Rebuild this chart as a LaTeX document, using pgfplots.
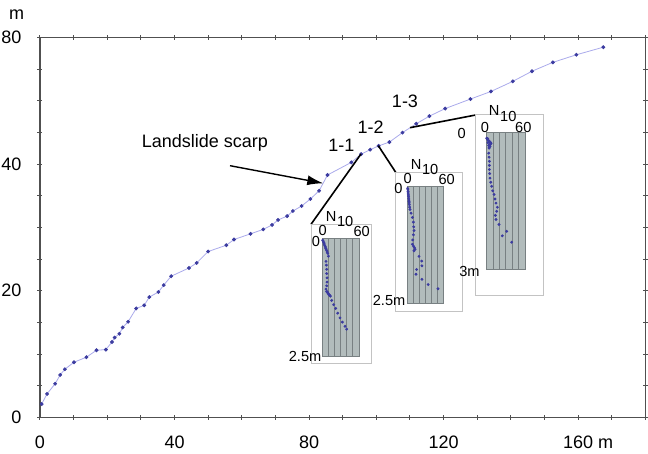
\documentclass[border=0pt]{standalone}
\usepackage{pgfplots}
\pgfplotsset{compat=1.18}
\usepackage{fontspec}
\setmainfont{Liberation Sans}
\usetikzlibrary{arrows.meta}
\definecolor{dotblue}{RGB}{60,60,160}
\definecolor{lineblue}{RGB}{170,170,235}
\definecolor{insetgray}{RGB}{178,188,188}
\definecolor{gridgray}{RGB}{120,128,130}
\definecolor{boxgray}{RGB}{195,195,195}
\definecolor{axisgray}{RGB}{80,80,80}
\newcommand{\insetfont}{\fontsize{7.3}{8}\selectfont}
\newcommand{\mainfont}{\fontsize{9}{10}\selectfont}
\pgfplotsset{
  inset/.style={scale only axis, anchor=north west, xmin=0, xmax=60, ymin=0, y dir=reverse,
    axis background/.style={fill=insetgray},
    xtick={0,10,...,60}, xticklabels={}, ytick=\empty,
    xmajorgrids, grid style={gridgray, line width=0.45pt},
    major tick length=0pt, axis line style={gridgray, line width=0.45pt}, clip=false},
  insetdots/.style={only marks, mark=*, mark size=0.5pt, color=dotblue}
}
\begin{document}
\begin{tikzpicture}
\useasboundingbox (0,0) rectangle (324pt,227pt);
\begin{axis}[name=main, at={(20pt,18.35pt)}, anchor=south west, scale only axis,
  width=302.65pt, height=189.8pt, xmin=0, xmax=180, ymin=0, ymax=60,
  xtick={0,10,...,180}, xticklabels={0,,,,40,,,,80,,,,120,,,,160\rlap{\ m},,},
  ytick={0,5,...,60}, yticklabels={0,,,,20,,,,40,,,,80},
  tick align=center, major tick length=2.5pt, tick style={axisgray, line width=0.5pt},
  axis line style={axisgray, line width=0.7pt},
  ticklabel style={font=\mainfont, text=black},
  xticklabel style={yshift=-4.5pt}, yticklabel style={xshift=-4.5pt},
  clip=false]
\addplot[color=lineblue, line width=0.4pt, mark=*, mark size=0.75pt,
  mark options={fill=dotblue, draw=dotblue}] coordinates {
(0.5,2.1)(2.1,3.7)(4.5,5.3)(6.0,6.7)(7.4,7.6)(10.1,8.7)(13.8,9.5)(16.8,10.6)(19.6,10.7)
(21.4,11.9)(22.2,12.6)(23.6,13.2)(24.6,14.2)(26.2,15.1)(28.6,17.2)(31.0,17.7)(32.5,19.0)
(35.2,19.8)(36.8,20.9)(39.0,22.3)(44.3,23.6)(46.6,24.4)(50.0,26.2)(55.4,27.2)(57.7,28.1)
(62.6,29.0)(66.4,29.7)(69.0,30.4)(70.8,31.2)(73.5,31.8)(75.2,32.6)(77.8,33.4)(80.4,34.5)
(83.0,35.8)(85.5,38.3)(92.6,40.3)(95.5,41.6)(98.2,42.3)(100.7,42.9)(103.9,43.5)(107.8,45.0)
(111.9,46.4)(115.8,47.6)(120.5,48.8)(128.0,50.3)(134.1,51.5)(140.6,53.1)(146.3,54.7)
(152.5,56.1)(159.5,57.3)(167.5,58.5)
};
\end{axis}
\node[font=\mainfont] at (8.35pt,219.5pt) {m};
% annotations
\node[font=\mainfont] at (102.5pt,155.65pt) {Landslide scarp};
\draw[line width=0.7pt, -{Latex[length=8pt,width=5pt]}] (115pt,144.15pt) -- (161.65pt,135.35pt);
\node[font=\mainfont] at (170.7pt,154.2pt) {1-1};
\node[font=\mainfont] at (185.3pt,163.3pt) {1-2};
\node[font=\mainfont] at (202.5pt,176.5pt) {1-3};
\draw[line width=0.8pt] (180.5pt,150pt) -- (155.5pt,114.85pt);
\draw[line width=0.8pt] (189.15pt,154.15pt) -- (197.85pt,140.85pt);
\draw[line width=0.8pt] (205pt,163.15pt) -- (237.85pt,169.5pt);
% inset frames
\draw[boxgray, fill=white, line width=0.5pt] (155.5pt,114.85pt) rectangle (185.85pt,45pt);
\draw[boxgray, fill=white, line width=0.5pt] (197.85pt,140.85pt) rectangle (231.15pt,71.15pt);
\draw[boxgray, fill=white, line width=0.5pt] (237.85pt,169.5pt) rectangle (271.65pt,79.15pt);
% inset 1
\begin{axis}[inset, name=i1, at={(161.35pt,107.85pt)}, width=18.15pt, height=58.85pt, ymax=2.5]
\addplot[insetdots] coordinates {
(0,0.04)(0.8,0.06)(1.7,0.09)(2.5,0.12)(3.3,0.15)(4.2,0.18)(5.0,0.21)(5.8,0.23)(6.6,0.26)
(7.4,0.29)(8.3,0.32)(9.4,0.38)(5.5,0.49)(6.1,0.57)(6.6,0.66)(6.6,0.75)(7.2,0.84)(7.2,0.93)
(6.6,1.01)(5.5,1.08)(6.6,1.13)(7.5,1.14)(8.3,1.16)(9.4,1.18)(10.5,1.20)(11.6,1.21)(12.7,1.23)
(14.9,1.32)(18.2,1.41)(21.5,1.49)(24.8,1.59)(28.6,1.69)(32.5,1.78)(36.9,1.87)(39.6,1.93)
};
\end{axis}
% inset 2
\begin{axis}[inset, name=i2, at={(203.85pt,134pt)}, width=17.8pt, height=58.65pt, ymax=2.5]
\addplot[insetdots] coordinates {
(0,0.05)(0.3,0.08)(0.6,0.12)(0.8,0.15)(1.1,0.19)(1.4,0.22)(1.7,0.26)(2.0,0.30)(2.2,0.33)
(2.5,0.36)(2.8,0.40)(3.3,0.45)(3.9,0.50)(5.6,0.58)(7.9,0.67)(9.6,0.77)(10.1,0.87)(10.7,0.95)
(9.6,1.04)(8.4,1.15)(7.9,1.24)(9.6,1.28)(11.2,1.31)(12.4,1.35)(10.7,1.38)(19,1.50)(23.6,1.60)
(24,1.70)(15,1.78)(14,1.88)(24,1.99)(34.5,2.10)(51,2.19)
};
\end{axis}
% inset 3
\begin{axis}[inset, name=i3, at={(243.35pt,160.65pt)}, width=19.15pt, height=68.15pt, ymax=3]
\addplot[insetdots] coordinates {
(0,0.12)(1.0,0.15)(1.5,0.13)(2.6,0.17)(3.5,0.20)(4.2,0.19)(5.7,0.21)(6.8,0.23)(6.0,0.25)
(2.0,0.22)(4.7,0.26)(3.1,0.28)(5.2,0.30)(4.0,0.32)(3.7,0.34)(3.1,0.45)(3.7,0.54)(4.2,0.63)
(4.2,0.72)(4.2,0.81)(4.7,0.90)(5.2,1.00)(6.3,1.09)(7.8,1.18)(9.4,1.28)(11.5,1.36)(13.0,1.46)
(14.6,1.55)(16.7,1.64)(15.6,1.73)(13.6,1.82)(14.6,1.91)(19.3,2.02)(31.3,2.17)(24.5,2.27)(39.1,2.41)
};
\end{axis}
% inset labels
\begin{scope}[every node/.style={font=\insetfont, inner sep=0pt}]
\node at ([shift={(4.25pt,11pt)}]i1.north west) {N};
\node at ([shift={(11.25pt,8.5pt)}]i1.north west) {10};
\node at ([shift={(0pt,3.85pt)}]i1.north west) {0};
\node at ([shift={(1.35pt,3.5pt)}]i1.north east) {60};
\node at ([shift={(-3.35pt,-1.65pt)}]i1.north west) {0};
\node[anchor=east] at ([shift={(-0.5pt,0pt)}]i1.south west) {2.5m};
\node at ([shift={(4.25pt,11pt)}]i2.north west) {N};
\node at ([shift={(11.25pt,8.5pt)}]i2.north west) {10};
\node at ([shift={(0pt,3.85pt)}]i2.north west) {0};
\node at ([shift={(1.7pt,3.5pt)}]i2.north east) {60};
\node at ([shift={(-4.65pt,-1.15pt)}]i2.north west) {0};
\node[anchor=east] at ([shift={(-1pt,1.25pt)}]i2.south west) {2.5m};
\node at ([shift={(3.75pt,10.95pt)}]i3.north west) {N};
\node at ([shift={(10.8pt,8pt)}]i3.north west) {10};
\node at ([shift={(-0.85pt,2.5pt)}]i3.north west) {0};
\node at ([shift={(-0.85pt,2.5pt)}]i3.north east) {60};
\node at ([shift={(-12.5pt,-0.3pt)}]i3.north west) {0};
\node[anchor=east] at ([shift={(-3.35pt,-1.35pt)}]i3.south west) {3m};
\end{scope}
\end{tikzpicture}
\end{document}
